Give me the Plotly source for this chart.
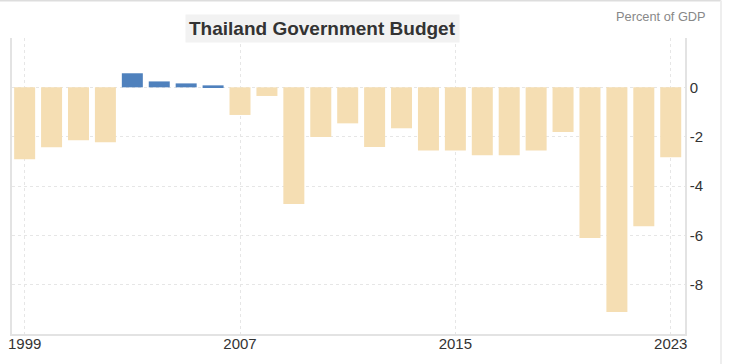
import plotly.graph_objects as go

years = list(range(1999, 2024))
values = [-2.92, -2.43, -2.15, -2.23, 0.57, 0.24, 0.16, 0.08, -1.12, -0.35,
          -4.73, -2.01, -1.46, -2.42, -1.66, -2.56, -2.56, -2.75, -2.75, -2.56,
          -1.81, -6.11, -9.11, -5.63, -2.83]
x_ticks = [1999, 2007, 2015, 2023]
y_ticks = [0, -2, -4, -6, -8]
title_text = "Thailand Government Budget"
unit_text = "Percent of GDP"

colors = ["#4f81bd" if v >= 0 else "#f5deb3" for v in values]

fig = go.Figure(go.Bar(x=years, y=values, marker_color=colors, marker_line_width=0, width=0.78))

fig.update_layout(
    width=729, height=364,
    margin=dict(l=12, r=44, t=38, b=30, autoexpand=False),
    plot_bgcolor="white", paper_bgcolor="white",
    showlegend=False,
    font=dict(family="Arial, Liberation Sans", size=14, color="#333333"),
    xaxis=dict(range=[1998.53, 2023.53], tickvals=x_ticks, ticktext=[str(t) for t in x_ticks],
               showgrid=True, gridcolor="#e6e6e6", griddash="dot", gridwidth=1,
               showline=True, linecolor="#e3e3e3", linewidth=1.5, ticks="", zeroline=False,
               automargin=False, ticklabelstandoff=-5,
               tickfont=dict(size=15, color="#333333")),
    yaxis=dict(range=[-10, 2], side="right", tickvals=[2, 0] + y_ticks[1:],
               ticktext=[""] + [str(t) for t in y_ticks],
               showgrid=True, gridcolor="#e6e6e6", griddash="dot", gridwidth=1,
               showline=True, linecolor="#e3e3e3", linewidth=1.5, mirror=True, ticks="",
               zeroline=False, automargin=False,
               tickfont=dict(size=15, color="#333333")),
    bargap=0.22,
)

fig.add_annotation(text="<b>" + title_text + "</b>", xref="paper", yref="paper",
                   x=(322 - 12) / 673, y=(334 - 28) / 296, xanchor="center", yanchor="middle",
                   showarrow=False, font=dict(size=19, color="#333333"),
                   bgcolor="#f2f2f2", borderpad=3)
fig.add_annotation(text=unit_text, xref="paper", yref="paper",
                   x=(708 - 12) / 673, y=(334 - 17) / 296, xanchor="right", yanchor="middle",
                   showarrow=False, font=dict(size=12.8, color="#888888"))

# outer frame lines (top and right)
fig.add_shape(type="line", xref="paper", yref="paper", x0=-12 / 673, x1=(721 - 12) / 673,
              y0=(334 - 0.5) / 296, y1=(334 - 0.5) / 296, line=dict(color="#dddddd", width=2))
fig.add_shape(type="line", xref="paper", yref="paper", x0=(721 - 12) / 673, x1=(721 - 12) / 673,
              y0=-30 / 296, y1=(334 - 0.5) / 296, line=dict(color="#eeeeee", width=2))

fig.write_html("out.html", config={"displayModeBar": False})

with open("out.html", "r", encoding="utf-8") as f:
    html = f.read()
html = html.replace("<head>", "<head><style>html,body{margin:0;padding:0;overflow:hidden;}</style>", 1)
with open("out.html", "w", encoding="utf-8") as f:
    f.write(html)
